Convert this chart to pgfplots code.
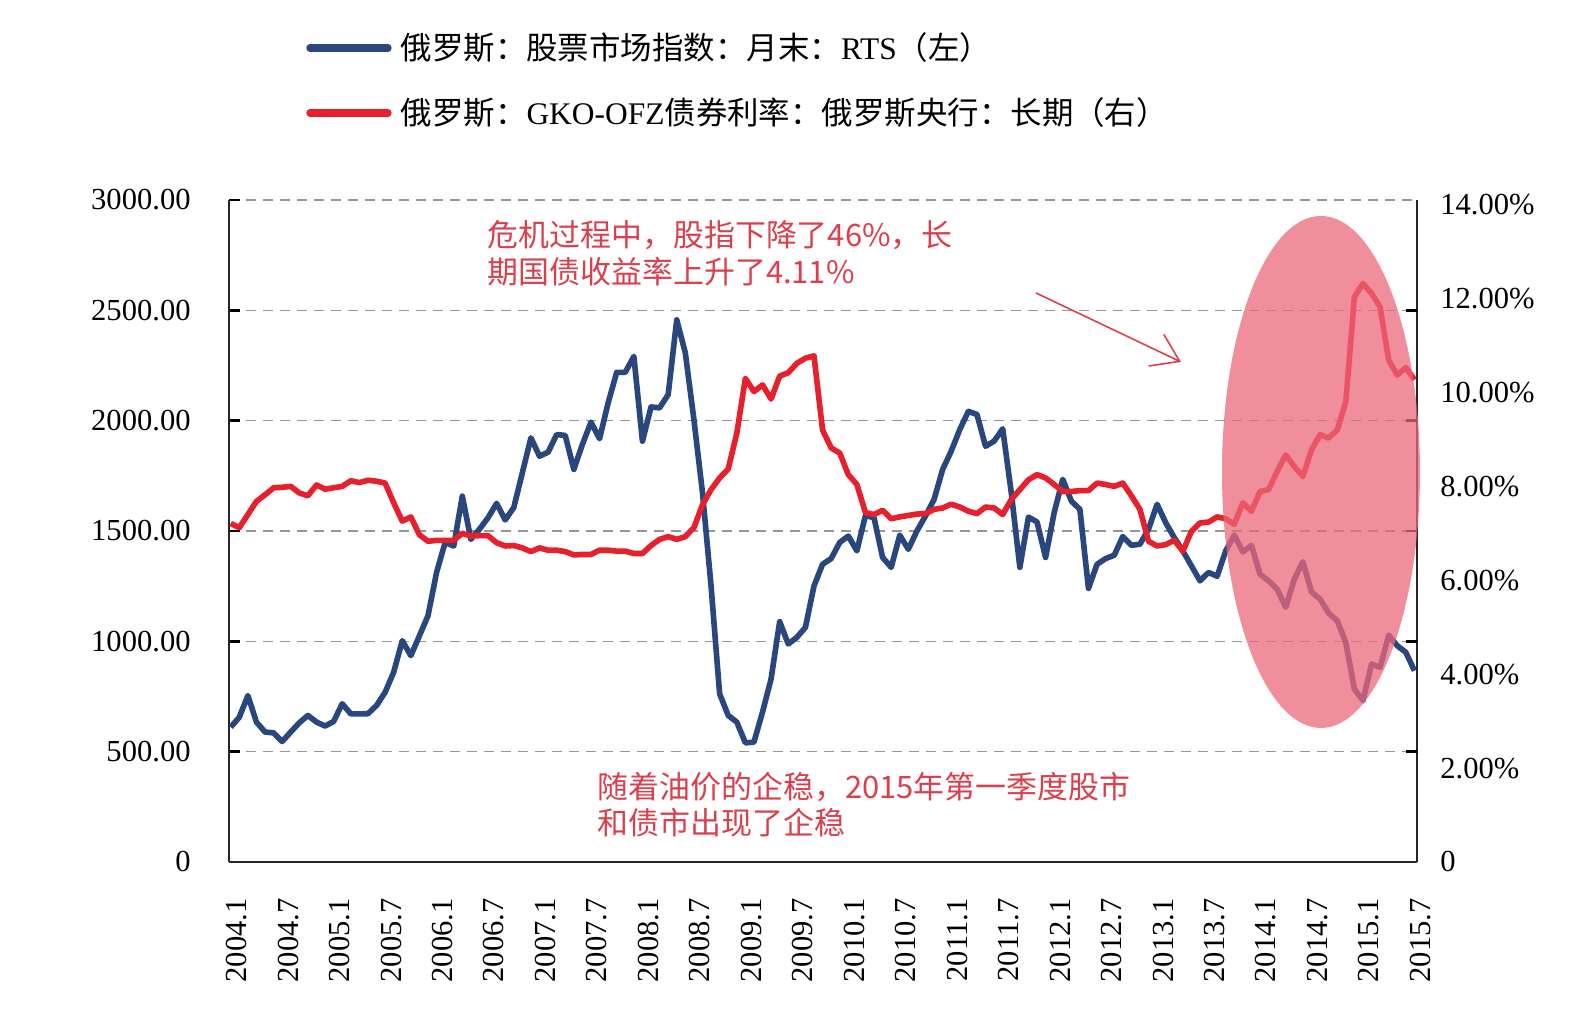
\documentclass[border=0pt]{standalone}
\usepackage{pgfplots}
\pgfplotsset{compat=1.18}
\usepackage{pgfplotstable}
\usepackage{fontspec}
\setmainfont{Liberation Serif}
\newfontfamily\cjk{Noto Sans CJK SC}
\usetikzlibrary{arrows.meta}

\definecolor{rtsblue}{RGB}{41,71,125}
\definecolor{ofzred}{RGB}{230,32,44}
\definecolor{notered}{RGB}{220,62,76}
\definecolor{hilite}{RGB}{236,104,122}
\definecolor{gridgray}{RGB}{150,150,150}

% RTS index, month end (month 0 = 2004.1)
\pgfplotstableread{
m rts
0 611
1 656
2 754
3 634
4 589
5 585
6 546
7 589
8 631
9 664
10 634
11 616
12 637
13 717
14 671
15 671
16 672
17 709
18 769
19 860
20 1003
21 935
22 1025
23 1116
24 1312
25 1448
26 1432
27 1658
28 1462
29 1508
30 1560
31 1625
32 1550
33 1606
34 1764
35 1922
36 1839
37 1857
38 1937
39 1933
40 1779
41 1892
42 1993
43 1918
44 2080
45 2219
46 2219
47 2291
48 1907
49 2062
50 2058
51 2118
52 2457
53 2307
54 2005
55 1674
56 1251
57 762
58 664
59 634
60 540
61 543
62 679
63 830
64 1089
65 988
66 1018
67 1063
68 1251
69 1349
70 1375
71 1448
72 1477
73 1410
74 1570
75 1560
76 1380
77 1335
78 1481
79 1417
80 1500
81 1568
82 1643
83 1779
84 1862
85 1960
86 2042
87 2028
88 1884
89 1907
90 1963
91 1674
92 1335
93 1563
94 1541
95 1380
96 1583
97 1734
98 1636
99 1598
100 1240
101 1349
102 1375
103 1390
104 1475
105 1435
106 1440
107 1508
108 1621
109 1538
110 1470
111 1410
112 1342
113 1274
114 1312
115 1295
116 1410
117 1481
118 1405
119 1435
120 1304
121 1274
122 1236
123 1154
124 1282
125 1360
126 1224
127 1191
128 1128
129 1093
130 995
131 784
132 731
133 897
134 882
135 1028
136 980
137 950
138 867
}\rtsdata

% GKO-OFZ long-term yield, percent
\pgfplotstableread{
m ofz
0 7.21
1 7.12
2 7.40
3 7.68
4 7.82
5 7.97
6 7.98
7 8.00
8 7.86
9 7.80
10 8.03
11 7.94
12 7.97
13 8.00
14 8.12
15 8.08
16 8.13
17 8.11
18 8.07
19 7.65
20 7.26
21 7.35
22 6.97
23 6.83
24 6.85
25 6.85
26 6.85
27 7.00
28 6.94
29 6.95
30 6.95
31 6.80
32 6.73
33 6.74
34 6.69
35 6.61
36 6.69
37 6.64
38 6.64
39 6.61
40 6.54
41 6.55
42 6.55
43 6.64
44 6.64
45 6.62
46 6.62
47 6.57
48 6.57
49 6.74
50 6.87
51 6.93
52 6.87
53 6.93
54 7.12
55 7.61
56 7.93
57 8.18
58 8.37
59 9.13
60 10.30
61 10.02
62 10.16
63 9.86
64 10.35
65 10.42
66 10.62
67 10.73
68 10.78
69 9.20
70 8.82
71 8.71
72 8.25
73 8.04
74 7.44
75 7.40
76 7.49
77 7.31
78 7.35
79 7.38
80 7.41
81 7.42
82 7.51
83 7.54
84 7.62
85 7.56
86 7.47
87 7.42
88 7.56
89 7.54
90 7.40
91 7.72
92 7.93
93 8.14
94 8.25
95 8.18
96 8.04
97 7.89
98 7.89
99 7.91
100 7.91
101 8.07
102 8.04
103 8.00
104 8.07
105 7.80
106 7.51
107 6.83
108 6.73
109 6.76
110 6.85
111 6.62
112 7.04
113 7.22
114 7.24
115 7.35
116 7.31
117 7.19
118 7.65
119 7.47
120 7.89
121 7.93
122 8.32
123 8.67
124 8.42
125 8.21
126 8.78
127 9.10
128 9.03
129 9.20
130 9.80
131 12.03
132 12.32
133 12.11
134 11.82
135 10.69
136 10.37
137 10.53
138 10.27
}\ofzdata

\begin{document}
\begin{tikzpicture}[font=\fontsize{8.7}{10}\selectfont]
\path[use as bounding box] (-22.9mm,-16.4mm) rectangle (134.0mm,86.2mm);

% left axis: RTS
\begin{axis}[
  at={(0,0)}, anchor=south west,
  scale only axis, width=118.8mm, height=66.2mm,
  xmin=-0.2, xmax=138.3, ymin=0, ymax=3000,
  axis x line*=bottom, axis y line*=left,
  axis line style={-, line width=0.8pt, color=black!85},
  /pgf/number format/assume math mode=true,
  xtick={0,6,...,138},
  xticklabels={2004.1,2004.7,2005.1,2005.7,2006.1,2006.7,2007.1,2007.7,2008.1,2008.7,2009.1,2009.7,2010.1,2010.7,2011.1,2011.7,2012.1,2012.7,2013.1,2013.7,2014.1,2014.7,2015.1,2015.7},
  x tick label style={xshift=0.6mm, rotate=90, anchor=east},
  xticklabel shift=2.4mm,
  xtick style={draw=none},
  ytick={0,500,...,3000},
  yticklabels={0,500.00,1000.00,1500.00,2000.00,2500.00,3000.00},
  yticklabel shift=2.6mm,
  ytick style={line width=0.7pt, black},
  tick align=inside,
  major tick length=1.1mm,
  ymajorgrids,
  y grid style={gridgray, line width=0.45pt, dash pattern=on 1.0mm off 0.7mm},
  clip=false,
]
\addplot[rtsblue, line width=1.6pt, line join=round] table[x=m, y=rts] {\rtsdata};
\end{axis}

% right axis: bond yield
\begin{axis}[
  at={(0,0)}, anchor=south west,
  scale only axis, width=118.8mm, height=66.2mm,
  xmin=-0.2, xmax=138.3, ymin=0, ymax=14.1,
  axis x line=none, axis y line*=right,
  axis line style={-, line width=0.8pt, color=black!85},
  /pgf/number format/assume math mode=true,
  ytick={0,2,...,14},
  yticklabels={0,2.00\%,4.00\%,6.00\%,8.00\%,10.00\%,12.00\%,14.00\%},
  yticklabel shift=1.1mm,
  ytick style={draw=none},
  tick align=inside,
  extra y ticks={2.35,4.7,7.05,9.4,11.75},
  extra y tick labels={},
  extra y tick style={ytick style={draw=black, line width=0.7pt}, major tick length=1.1mm, tick align=inside},
]
\addplot[ofzred, line width=1.6pt, line join=round] table[x=m, y=ofz] {\ofzdata};
\end{axis}

% highlighted period
\fill[hilite, opacity=0.75] (109.2mm,39.0mm) ellipse [x radius=9.9mm, y radius=25.6mm];

% arrow pointing to it
\draw[notered, line width=0.45pt, -{Straight Barb[length=2.6mm, width=3.5mm]}]
  (80.7mm,56.9mm) -- (95.2mm,50.0mm);

% notes
\node[anchor=west, notered, align=left, font=\cjk\fontsize{8.8}{10.4}\selectfont, inner sep=0pt]
  at (25.8mm,60.85mm) {危机过程中，股指下降了46\%，长\\期国债收益率上升了4.11\%};
\node[anchor=west, notered, align=left, font=\cjk\fontsize{8.8}{10.4}\selectfont, inner sep=0pt]
  at (36.8mm,5.75mm) {随着油价的企稳，2015年第一季度股市\\和债市出现了企稳};

% legend
\draw[rtsblue, line width=2.1pt, line cap=round] (8.1mm,81.4mm) -- (15.9mm,81.4mm);
\node[anchor=west, inner sep=0pt, font=\fontsize{8.95}{10}\selectfont] at (17.1mm,81.4mm)
  {{\cjk 俄罗斯：股票市场指数：月末：}RTS{\cjk （左）}};
\draw[ofzred, line width=2.1pt, line cap=round] (8.1mm,74.9mm) -- (15.9mm,74.9mm);
\node[anchor=west, inner sep=0pt, font=\fontsize{8.95}{10}\selectfont] at (17.1mm,74.9mm)
  {{\cjk 俄罗斯：}GKO-OFZ{\cjk 债券利率：俄罗斯央行：长期（右）}};
\end{tikzpicture}
\end{document}
